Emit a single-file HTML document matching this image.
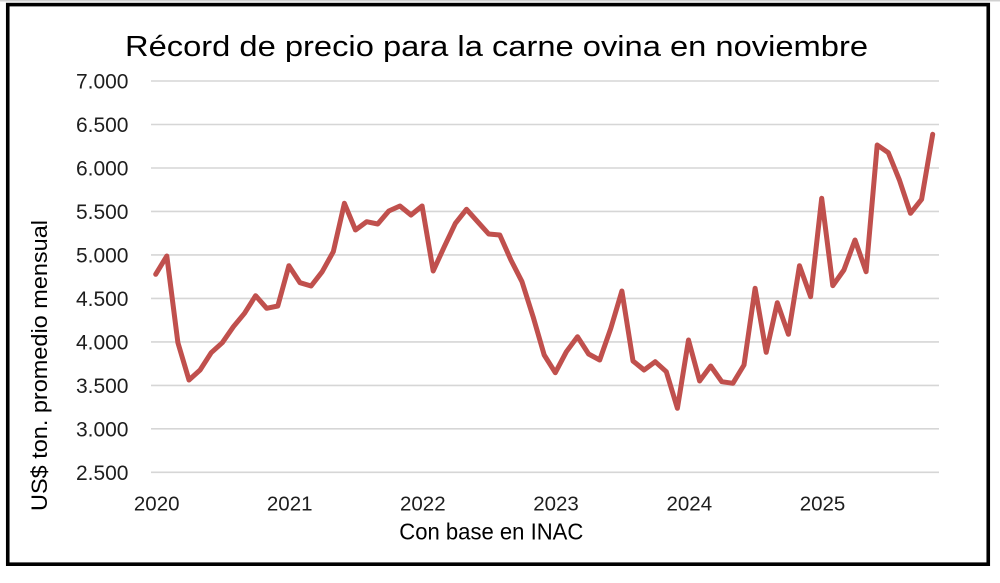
<!DOCTYPE html>
<html>
<head>
<meta charset="utf-8">
<style>
  html, body { margin:0; padding:0; background:#fff; }
  svg { display:block; }
  text { font-family: "Liberation Sans", "DejaVu Sans", sans-serif; }
</style>
</head>
<body>
<svg width="1000" height="583" viewBox="0 0 1000 583" xmlns="http://www.w3.org/2000/svg">
  <rect x="0" y="0" width="1000" height="583" fill="#fff"/>
  <line x1="0" y1="0.8" x2="1000" y2="0.8" stroke="#d0d0d0" stroke-width="1.5"/>
  <!-- frame -->
  <rect x="7.75" y="4.6" width="980.5" height="559.6" fill="none" stroke="#000" stroke-width="3.6"/>

  <!-- title -->
  <text x="125" y="56" font-size="29" fill="#000" textLength="743" lengthAdjust="spacingAndGlyphs">Récord de precio para la carne ovina en noviembre</text>

  <!-- gridlines -->
  <g stroke="#d6d6d6" stroke-width="1.6">
    <line x1="151" y1="81" x2="939" y2="81"/>
    <line x1="151" y1="124.5" x2="939" y2="124.5"/>
    <line x1="151" y1="168" x2="939" y2="168"/>
    <line x1="151" y1="211.4" x2="939" y2="211.4"/>
    <line x1="151" y1="254.9" x2="939" y2="254.9"/>
    <line x1="151" y1="298.4" x2="939" y2="298.4"/>
    <line x1="151" y1="341.9" x2="939" y2="341.9"/>
    <line x1="151" y1="385.4" x2="939" y2="385.4"/>
    <line x1="151" y1="428.8" x2="939" y2="428.8"/>
    <line x1="151" y1="472.3" x2="939" y2="472.3"/>
  </g>

  <!-- y tick labels -->
  <g font-size="21" fill="#1e1e1e" text-anchor="end">
    <text x="128.5" y="88.5">7.000</text>
    <text x="128.5" y="132">6.500</text>
    <text x="128.5" y="175.5">6.000</text>
    <text x="128.5" y="218.9">5.500</text>
    <text x="128.5" y="262.4">5.000</text>
    <text x="128.5" y="305.9">4.500</text>
    <text x="128.5" y="349.4">4.000</text>
    <text x="128.5" y="392.9">3.500</text>
    <text x="128.5" y="436.3">3.000</text>
    <text x="128.5" y="479.8">2.500</text>
  </g>

  <!-- x tick labels -->
  <g font-size="20.5" fill="#1e1e1e" text-anchor="middle">
    <text x="156.7" y="510.7">2020</text>
    <text x="289.7" y="510.7">2021</text>
    <text x="422.8" y="510.7">2022</text>
    <text x="556" y="510.7">2023</text>
    <text x="689.3" y="510.7">2024</text>
    <text x="822.5" y="510.7">2025</text>
  </g>

  <!-- axis titles -->
  <text x="399.3" y="539.3" font-size="23" fill="#000" textLength="184" lengthAdjust="spacingAndGlyphs">Con base en INAC</text>
  <text transform="translate(47,365.5) rotate(-90)" x="0" y="0" font-size="22" fill="#000" text-anchor="middle" textLength="291" lengthAdjust="spacingAndGlyphs">US$ ton. promedio mensual</text>

  <!-- series -->
  <polyline fill="none" stroke="#c0504d" stroke-width="5" stroke-linejoin="round" stroke-linecap="round"
    points="155.7,274.3 166.8,256 177.9,342.7 189.0,380 200.1,370 211.2,352.7 222.3,342.7 233.4,326.7 244.5,313.3 255.6,295.7 266.7,308.3 277.8,306 288.9,265.7 300.0,282.7 311.1,286 322.2,271.7 333.3,251.7 344.4,203.3 355.5,230 366.6,221.7 377.7,224 388.8,211 399.9,206 411.0,215 422.1,206 433.2,271 444.3,246.7 455.4,223.3 466.5,209.3 477.6,221.7 488.7,234 499.8,235 510.9,260 522.0,281.7 533.1,316.7 544.2,355 555.3,372.7 566.4,351.7 577.5,336.7 588.6,354 599.7,360 610.8,328.3 621.9,291 633.0,361 644.1,370 655.2,361.7 666.3,371.7 677.4,408.3 688.5,340 699.6,381 710.7,366 721.8,381.7 732.9,383.3 744.0,365 755.1,288.3 766.2,352.3 777.3,302.7 788.4,334.3 799.5,265.7 810.6,296.7 821.7,198.3 832.8,285.7 843.9,270 855.0,240 866.1,271.7 877.2,145 888.3,152.7 899.4,180 910.5,213.3 921.6,199.3 932.7,134.3"/>
</svg>
</body>
</html>
